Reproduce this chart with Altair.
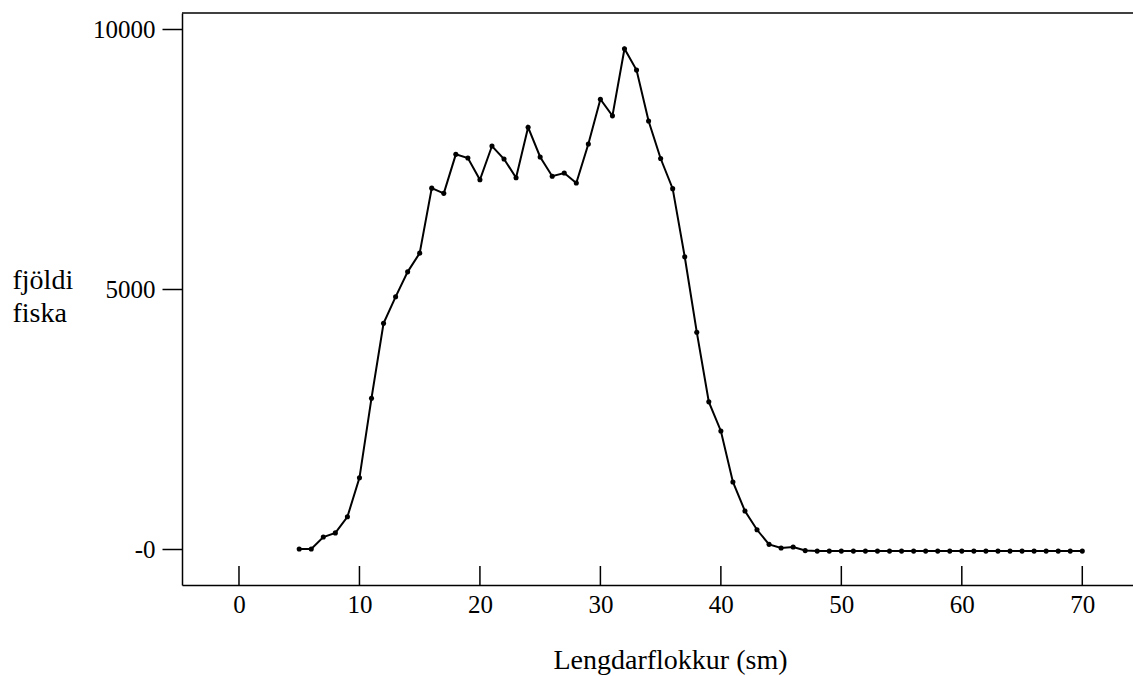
import altair as alt
import pandas as pd

lengths = list(range(5, 71))
counts = [
    0, 0, 230, 310, 620, 1370, 2900, 4340, 4850, 5330,
    5690, 6940, 6840, 7590, 7520, 7100, 7750, 7500, 7140, 8110,
    7540, 7170, 7230, 7040, 7790, 8650, 8330, 9620, 9210, 8230,
    7510, 6930, 5620, 4170, 2830, 2270, 1290, 730, 370, 90,
    20, 40, -30, -40, -40, -40, -40, -40, -40, -40,
    -40, -40, -40, -40, -40, -40, -40, -40, -40, -40,
    -40, -40, -40, -40, -40, -40,
]
x_ticks = [0, 10, 20, 30, 40, 50, 60, 70]
y_ticks = [0, 5000, 10000]

df = pd.DataFrame({"len": lengths, "n": counts})
ticks_df = pd.DataFrame({"t": x_ticks})

W, H = 951, 572
FONT = "Liberation Serif"

common = dict(
    domainColor="black", domainWidth=1.5, tickColor="black", tickWidth=1.5,
    labelFont=FONT, titleFont=FONT, labelFontSize=25, labelColor="black",
    titleColor="black", titleFontWeight="normal", titleFontSize=28, grid=False,
)

xs = alt.Scale(domain=[-4.73, 74.21], nice=False, zero=False)
ys = alt.Scale(domain=[-692, 10308], nice=False, zero=False)

base = alt.Chart(df)

line = base.mark_line(color="black", strokeWidth=2).encode(
    x=alt.X("len:Q", scale=xs,
            axis=alt.Axis(values=x_ticks, ticks=False, labelPadding=7,
                          title="Lengdarflokkur (sm)", titleX=488, titleY=83,
                          titleBaseline="alphabetic", titleAlign="center", **common)),
    y=alt.Y("n:Q", scale=ys,
            axis=alt.Axis(values=y_ticks, tickSize=20, labelPadding=7,
                          labelExpr="datum.value == 0 ? '-0' : format(datum.value, 'd')",
                          title=["fjöldi", "fiska"], titleAngle=0, titleAlign="left",
                          titleBaseline="alphabetic", titleX=-170, titleY=275,
                          titleLineHeight=33, **common)),
)

pts = base.mark_circle(color="black", size=26, opacity=1).encode(
    x=alt.X("len:Q", scale=xs),
    y=alt.Y("n:Q", scale=ys),
)

xticks = alt.Chart(ticks_df).mark_rule(color="black", strokeWidth=1.5).encode(
    x=alt.X("t:Q", scale=xs),
    y=alt.value(H),
    y2=alt.value(H - 19),
)

top = alt.Chart(ticks_df.head(1)).mark_rule(color="black", strokeWidth=1.5).encode(
    x=alt.value(0), x2=alt.value(W + 10), y=alt.value(0)
)

chart = alt.layer(line, pts, xticks, top).properties(
    width=W, height=H,
    autosize=alt.AutoSizeParams(type="none"),
    padding={"left": 182, "top": 13, "right": 0, "bottom": 91},
    background="white",
).configure_view(stroke=None)

chart.save("out.html", embed_options={"renderer": "svg", "actions": False})
